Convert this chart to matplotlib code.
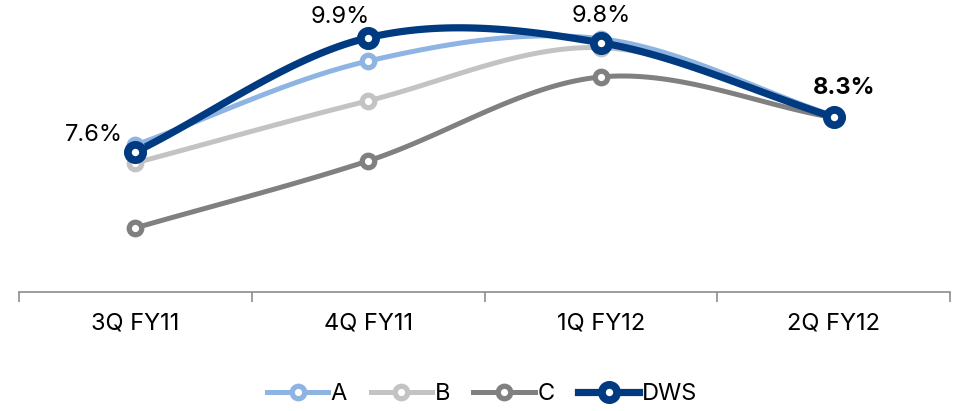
import numpy as np
import matplotlib.pyplot as plt
from matplotlib.lines import Line2D

plt.rcParams['font.family'] = ['Inter', 'DejaVu Sans']

quarters = ['3Q FY11', '4Q FY11', '1Q FY12', '2Q FY12']
series_a = [7.74, 9.43, 9.88, 8.33]
series_b = [7.38, 8.63, 9.70, 8.29]
series_c = [6.07, 7.42, 9.11, 8.29]
series_dws = [7.6, 9.9, 9.8, 8.3]
dws_labels = ['7.6%', '9.9%', '9.8%', '8.3%']


def smooth(xs, ys, n=40):
    """Catmull-Rom curve through the points, like a smoothed line chart."""
    xs = np.asarray(xs, float)
    ys = np.asarray(ys, float)
    px = np.concatenate([[2 * xs[0] - xs[1]], xs, [2 * xs[-1] - xs[-2]]])
    py = np.concatenate([[2 * ys[0] - ys[1]], ys, [2 * ys[-1] - ys[-2]]])
    out_x, out_y = [], []
    for i in range(1, len(px) - 2):
        t = np.linspace(0, 1, n)
        for p, out in ((px, out_x), (py, out_y)):
            p0, p1, p2, p3 = p[i - 1], p[i], p[i + 1], p[i + 2]
            out.extend(0.5 * (2 * p1 + (-p0 + p2) * t
                              + (2 * p0 - 5 * p1 + 4 * p2 - p3) * t ** 2
                              + (-p0 + 3 * p1 - 3 * p2 + p3) * t ** 3))
    return np.array(out_x), np.array(out_y)


fig = plt.figure(figsize=(9.64, 4.11), dpi=100)
ax = fig.add_axes([19 / 964, 119 / 411, 931 / 964, 292 / 411])

x = np.arange(len(quarters))
styles = [
    ('A', series_a, '#8DB4E2', 3.6, 9.0, 3.8),
    ('B', series_b, '#C3C3C3', 3.6, 9.0, 3.8),
    ('C', series_c, '#808080', 3.6, 9.0, 3.8),
    ('DWS', series_dws, '#003A80', 5.2, 11.0, 5.6),
]
handles = []
for name, vals, col, lw, ms, mew in [styles[2], styles[1], styles[0], styles[3]]:
    sx, sy = smooth(x, vals)
    ax.plot(sx, sy, color=col, lw=lw, solid_capstyle='round', zorder=2)
    ax.plot(x, vals, 'o', ms=ms, mfc='white', mec=col, mew=mew, zorder=3)
for name, vals, col, lw, ms, mew in styles:
    handles.append(Line2D([0], [0], color=col, lw=lw, marker='o', ms=ms,
                          mfc='white', mec=col, mew=mew, label=name))

# value labels for DWS, offsets in pixels from the marker
offsets = [(-41, 17), (-28, 21), (0, 27), (11, 29)]
for i, (v, txt) in enumerate(zip(series_dws, dws_labels)):
    dx, dy = offsets[i]
    ax.annotate(txt, (x[i], v), xytext=(dx * 0.72, dy * 0.72),
                textcoords='offset points', ha='center', va='center',
                fontsize=17, color='black',
                fontweight='bold' if i == 3 else 'normal')

ax.set_xlim(-0.5, 3.5)
ax.set_ylim(4.78, 10.66)
for side in ['top', 'right', 'left']:
    ax.spines[side].set_visible(False)
ax.spines['bottom'].set_color('#8C8C8C')
ax.spines['bottom'].set_linewidth(1.2)
ax.set_yticks([])
ax.set_xticks(x)
ax.set_xticklabels(quarters, fontsize=17)
ax.tick_params(axis='x', which='major', length=0, pad=15)
ax.set_xticks(np.arange(-0.5, 4.0, 1.0), minor=True)
ax.tick_params(axis='x', which='minor', length=7, width=1.2, color='#8C8C8C',
               direction='out')

fig.legend(handles=handles, loc='center', bbox_to_anchor=(0.5, 17 / 411),
           ncol=4, frameon=False, fontsize=17, handlelength=2.6,
           handletextpad=0.1, columnspacing=1.0)

fig.savefig('out.png', dpi=100)
